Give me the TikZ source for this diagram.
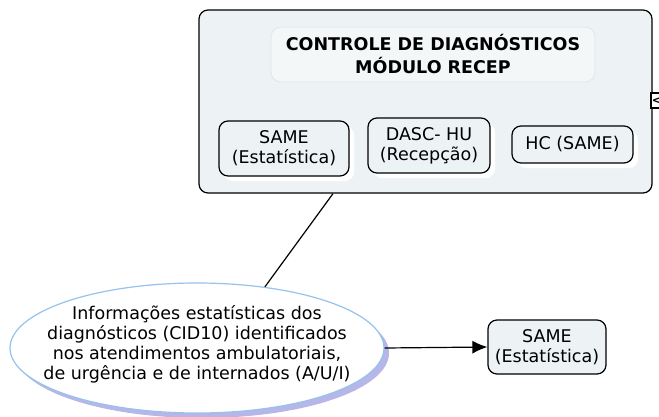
\documentclass[tikz,border=0pt]{standalone}
\usepackage{fontspec}
\setmainfont{DejaVu Sans}
\usetikzlibrary{arrows.meta}
\usetikzlibrary{shapes.geometric}
\usetikzlibrary{shadows}
\definecolor{boxfill}{RGB}{237,243,245}
\definecolor{titlefill}{RGB}{243,247,248}
\definecolor{titleline}{RGB}{222,232,236}
\definecolor{bubbleline}{RGB}{150,195,235}
\definecolor{bubbleshadow}{RGB}{182,182,232}

\begin{document}
\begin{tikzpicture}[x=1pt, y=-1pt,
every node/.style={font=\fontsize{17.5}{20}\selectfont, align=center, inner sep=0pt},
bigbox/.style={draw, line width=1.2pt, rounded corners=9pt, fill=boxfill},
titlebox/.style={draw=titleline, line width=0.8pt, rounded corners=10pt, fill=titlefill,
  font=\fontsize{17.5}{23}\selectfont\bfseries},
box/.style={draw, line width=1.2pt, rounded corners=9pt, fill=boxfill,
  drop shadow={shadow xshift=5pt, shadow yshift=-5pt, fill=white, opacity=1}},
bubble/.style={ellipse, draw=bubbleline, line width=1.2pt, fill=white,
  drop shadow={shadow xshift=5pt, shadow yshift=-5pt, fill=bubbleshadow, opacity=1}}]

\useasboundingbox (0,0) rectangle (659,416);

\node[bigbox, minimum width=453, minimum height=183] (controle) at (425.5,101.5) {};
\node[titlebox, minimum width=324, minimum height=55] (titulo) at (433,54.5)
  {CONTROLE DE DIAGNÓSTICOS\\MÓDULO RECEP};
\node[box, minimum width=130, minimum height=55] (same) at (284,148.5) {SAME\\(Estatística)};
\node[box, minimum width=122, minimum height=55] (dasc) at (429,145.5) {DASC- HU\\(Recepção)};
\node[box, minimum width=121, minimum height=37] (hc) at (572.5,144.5) {HC (SAME)};
\node[draw, fill=white, line width=1.2pt, minimum width=12, minimum height=15,
  font=\fontsize{12}{12}\selectfont\bfseries] (toggle) at (657,100.5) {<};

\node[bubble, minimum width=374, minimum height=130] (info) at (197,348) {};
\node (infotexto) at ([yshift=4pt]info.center)
  {Informações estatísticas dos\\diagnósticos (CID10) identificados\\nos atendimentos ambulatoriais,\\de urgência e de internados (A/U/I)};
\node[box, minimum width=118, minimum height=54] (same2) at (547,347) {SAME\\(Estatística)};

\draw[line width=1.2pt] ([xshift=-92.5pt]controle.south) -- (info.42);
\draw[line width=1.2pt, -{Latex[length=15pt, width=13pt]}] (info.east) -- (same2.west);

\end{tikzpicture}
\end{document}
